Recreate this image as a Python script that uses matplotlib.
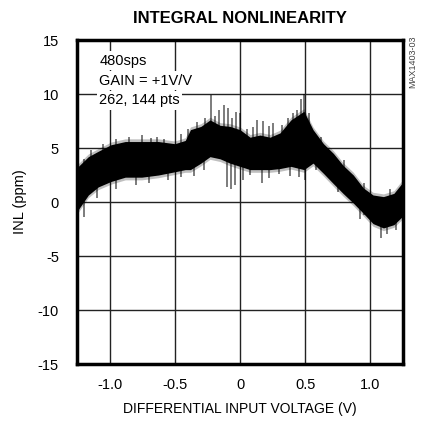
import matplotlib
matplotlib.use("Agg")
import matplotlib.pyplot as plt

plt.rcParams['font.family'] = ['Liberation Sans Narrow', 'Liberation Sans', 'DejaVu Sans']
plt.rcParams['axes.unicode_minus'] = False

# band envelope (V, ppm)
volts = [-1.25, -1.24, -1.163, -1.087, -0.99, -0.88, -0.754, -0.626, -0.5, -0.42,
         -0.38, -0.30, -0.23, -0.153, -0.077, 0.0, 0.077, 0.153, 0.23, 0.307,
         0.39, 0.49, 0.56, 0.64, 0.716, 0.79, 0.869, 0.946, 1.02, 1.1,
         1.18, 1.24, 1.25]
inl_upper = [3.0, 3.3, 4.2, 4.7, 5.3, 5.6, 5.6, 5.6, 5.4, 5.7,
             6.7, 7.0, 7.6, 7.1, 7.0, 6.7, 6.0, 6.2, 6.0, 6.4,
             7.6, 8.4, 6.7, 5.4, 4.5, 3.4, 2.5, 1.3, 0.65, 0.5,
             0.8, 1.7, 2.0]
inl_lower = [-1.0, -0.7, 0.65, 1.4, 1.9, 2.3, 2.3, 2.5, 2.8, 3.0,
             3.0, 3.6, 4.2, 4.0, 3.6, 3.3, 3.0, 3.0, 3.0, 3.1,
             3.3, 3.0, 3.6, 2.65, 1.7, 0.8, -0.1, -1.05, -2.0, -2.4,
             -2.1, -1.4, -1.2]

# noise spikes sticking out of the band
spike_up_x = [-1.2, -1.14, -1.05, -0.95, -0.85, -0.75, -0.68, -0.64, -0.58, -0.45,
              -0.40, -0.33, -0.27, -0.22, -0.19, -0.16, -0.12, -0.09, -0.06, -0.03,
              0.0, 0.05, 0.10, 0.13, 0.18, 0.22, 0.25, 0.32, 0.37, 0.41, 0.44,
              0.47, 0.49, 0.53, 0.62, 0.80, 0.95, 1.15]
spike_up_y = [4.0, 4.8, 5.4, 5.8, 6.0, 6.2, 5.9, 6.0, 5.8, 6.3,
              6.8, 7.4, 7.8, 9.9, 8.0, 8.5, 9.0, 8.7, 7.8, 8.3,
              8.2, 6.8, 6.9, 7.6, 7.5, 7.0, 7.3, 7.1, 7.8, 8.2, 8.5,
              9.5, 10.0, 8.2, 6.0, 3.9, 1.8, 1.2]
spike_dn_x = [-1.2, -1.1, -0.95, -0.8, -0.70, -0.55, -0.45, -0.35, -0.28, -0.10,
              -0.07, -0.04, 0.02, 0.08, 0.17, 0.22, 0.30, 0.38, 0.45, 0.50,
              0.58, 0.75, 0.92, 1.08, 1.13, 1.20]
spike_dn_y = [-1.4, 0.4, 1.2, 1.6, 1.8, 2.0, 2.3, 2.4, 3.0, 1.4,
              1.2, 1.6, 2.0, 2.5, 1.8, 2.2, 2.6, 2.4, 2.3, 2.0,
              3.0, 0.9, -1.6, -3.3, -3.0, -2.6]

xticks = [-1.0, -0.5, 0, 0.5, 1.0]
xtick_labels = ['-1.0', '-0.5', '0', '0.5', '1.0']
yticks = [-15, -10, -5, 0, 5, 10, 15]

fig = plt.figure(figsize=(4.22, 4.28), dpi=100)
ax = fig.add_axes([0.1825, 0.1495, 0.7725, 0.757])

ax.fill_between(volts, [u + 0.25 for u in inl_upper], [l - 0.25 for l in inl_lower],
                color='black', alpha=0.25, linewidth=0, zorder=2)
ax.fill_between(volts, inl_upper, inl_lower, color='black', linewidth=0, zorder=3)
for sx, sy in zip(spike_up_x, spike_up_y):
    ax.vlines(sx, sy - 3.0, sy, color='black', alpha=0.6, linewidth=1.2, zorder=3)
for sx, sy in zip(spike_dn_x, spike_dn_y):
    ax.vlines(sx, sy, sy + 3.0, color='black', alpha=0.6, linewidth=1.2, zorder=3)

ax.set_xlim(-1.25, 1.25)
ax.set_ylim(-15, 15)
ax.set_xticks(xticks)
ax.set_xticklabels(xtick_labels)
ax.set_yticks(yticks)
ax.grid(axis='both', linestyle='solid', color='#222222', linewidth=1.0, zorder=1)
ax.set_axisbelow(True)
ax.tick_params(length=0, labelsize=10.5, pad=13)
ax.tick_params(axis='x', pad=10)
for s in ax.spines.values():
    s.set_linewidth(2.5)
    s.set_zorder(5)

ax.set_xlabel('DIFFERENTIAL INPUT VOLTAGE (V)', fontsize=10, labelpad=7)
ax.set_ylabel('INL (ppm)', fontsize=10.5, labelpad=8)
ax.set_title('INTEGRAL NONLINEARITY', fontsize=12, fontweight='bold', pad=12)

for i, line in enumerate(['480sps', 'GAIN = +1V/V', '262, 144 pts']):
    ax.text(-1.08, 13.1 - i * 1.85, line, fontsize=10.5, va='center', ha='left',
            bbox=dict(facecolor='white', edgecolor='none', pad=1.5), zorder=6)

fig.text(0.978, 0.855, 'MAX1403-03', rotation=90, fontsize=6.5, color='#444444',
         ha='center', va='center')

plt.savefig('out.png', dpi=100)
plt.close()
